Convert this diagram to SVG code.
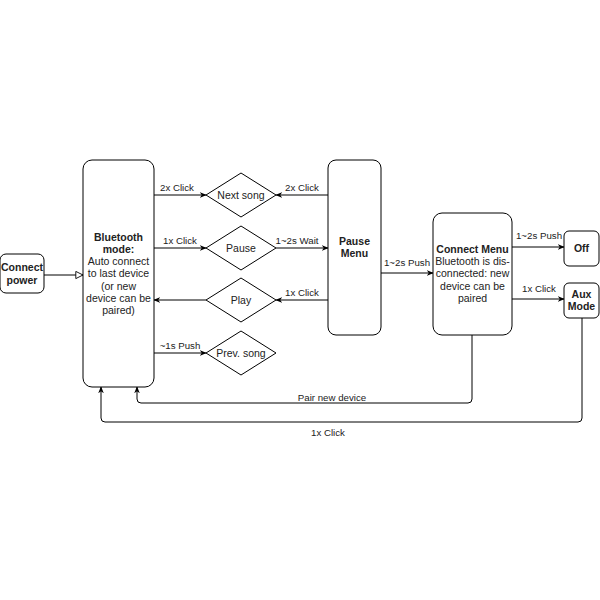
<svg xmlns="http://www.w3.org/2000/svg" width="600" height="600" viewBox="0 0 600 600">
<defs>
<marker id="arr" viewBox="0 0 10 10" refX="9" refY="5" markerWidth="7" markerHeight="7" orient="auto" markerUnits="userSpaceOnUse">
<path d="M0,1 L10,5 L0,9 L3,5 Z" fill="#000"/>
</marker>
<marker id="tri" viewBox="0 0 10 10" refX="9" refY="5" markerWidth="9" markerHeight="9" orient="auto" markerUnits="userSpaceOnUse">
<path d="M1,1 L9,5 L1,9 Z" fill="#fff" stroke="#000" stroke-width="1"/>
</marker>
</defs>
<style>
.box{fill:#fff;stroke:#000;stroke-width:1}
.t{font-family:"Liberation Sans",Arial,sans-serif;font-size:10.5px;fill:#222;text-anchor:middle}
.b{font-weight:bold}
.lbl{font-family:"Liberation Sans",Arial,sans-serif;font-size:9.7px;fill:#222;text-anchor:middle}
.e{fill:none;stroke:#000;stroke-width:1}
</style>
<rect width="600" height="600" fill="#fff"/>
<g id="connectors">
<path class="e" d="M44,275 H83" marker-end="url(#tri)"/>
<path class="e" d="M154,195 H206" marker-end="url(#arr)"/>
<text class="lbl" x="177" y="191">2x Click</text>
<path class="e" d="M328,195 H276" marker-end="url(#arr)"/>
<text class="lbl" x="302" y="191">2x Click</text>
<path class="e" d="M154,248 H206" marker-end="url(#arr)"/>
<text class="lbl" x="180" y="244">1x Click</text>
<path class="e" d="M276,248 H328" marker-end="url(#arr)"/>
<text class="lbl" x="297" y="244">1~2s Wait</text>
<path class="e" d="M328,300 H276" marker-end="url(#arr)"/>
<text class="lbl" x="302" y="296">1x Click</text>
<path class="e" d="M206,300 H154" marker-end="url(#arr)"/>
<path class="e" d="M154,353 H206" marker-end="url(#arr)"/>
<text class="lbl" x="180" y="349">~1s Push</text>
<path class="e" d="M381,273 H433" marker-end="url(#arr)"/>
<text class="lbl" x="407" y="266">1~2s Push</text>
<path class="e" d="M512,247 H564" marker-end="url(#arr)"/>
<text class="lbl" x="539" y="239">1~2s Push</text>
<path class="e" d="M512,299 H564" marker-end="url(#arr)"/>
<text class="lbl" x="539" y="292">1x Click</text>
<path class="e" d="M472,335 V399 Q472,403 468,403 H141 Q137,403 137,399 V387" marker-end="url(#arr)"/>
<text class="lbl" x="332" y="401">Pair new device</text>
<path class="e" d="M582,318 V418 Q582,422 578,422 H105 Q101,422 101,418 V387" marker-end="url(#arr)"/>
<text class="lbl" x="328" y="436">1x Click</text>
</g>
<g id="connect-power">
<rect class="box" x="0" y="254" width="44" height="39" rx="6"/>
<text class="t b" x="22" y="271">Connect</text>
<text class="t b" x="22" y="284">power</text>
</g>
<g id="bluetooth-mode">
<rect class="box" x="83" y="160" width="71" height="227" rx="9"/>
<text class="t b" x="118.5" y="241">Bluetooth</text>
<text class="t b" x="118.5" y="253">mode:</text>
<text class="t" x="118.5" y="265">Auto connect</text>
<text class="t" x="118.5" y="277">to last device</text>
<text class="t" x="118.5" y="290">(or new</text>
<text class="t" x="118.5" y="302">device can be</text>
<text class="t" x="118.5" y="314">paired)</text>
</g>
<g id="next-song">
<polygon class="box" points="241,173 276,195 241,217 206,195"/>
<text class="t" x="241" y="199">Next song</text>
</g>
<g id="pause">
<polygon class="box" points="241,226 276,248 241,270 206,248"/>
<text class="t" x="241" y="252">Pause</text>
</g>
<g id="play">
<polygon class="box" points="241,278 276,300 241,322 206,300"/>
<text class="t" x="241" y="304">Play</text>
</g>
<g id="prev-song">
<polygon class="box" points="241,331 276,353 241,375 206,353"/>
<text class="t" x="241" y="357">Prev. song</text>
</g>
<g id="pause-menu">
<rect class="box" x="328" y="160" width="53" height="175" rx="8"/>
<text class="t b" x="354.5" y="245">Pause</text>
<text class="t b" x="354.5" y="257">Menu</text>
</g>
<g id="connect-menu">
<rect class="box" x="433" y="213" width="79" height="122" rx="9"/>
<text class="t b" x="472.5" y="253">Connect Menu</text>
<text class="t" x="472.5" y="265">Bluetooth is dis-</text>
<text class="t" x="472.5" y="277">connected: new</text>
<text class="t" x="472.5" y="290">device can be</text>
<text class="t" x="472.5" y="302">paired</text>
</g>
<g id="off">
<rect class="box" x="564" y="231" width="35" height="35" rx="5"/>
<text class="t b" x="581.5" y="252">Off</text>
</g>
<g id="aux-mode">
<rect class="box" x="564" y="283" width="35" height="35" rx="5"/>
<text class="t b" x="581.5" y="298">Aux</text>
<text class="t b" x="581.5" y="310">Mode</text>
</g>
</svg>
